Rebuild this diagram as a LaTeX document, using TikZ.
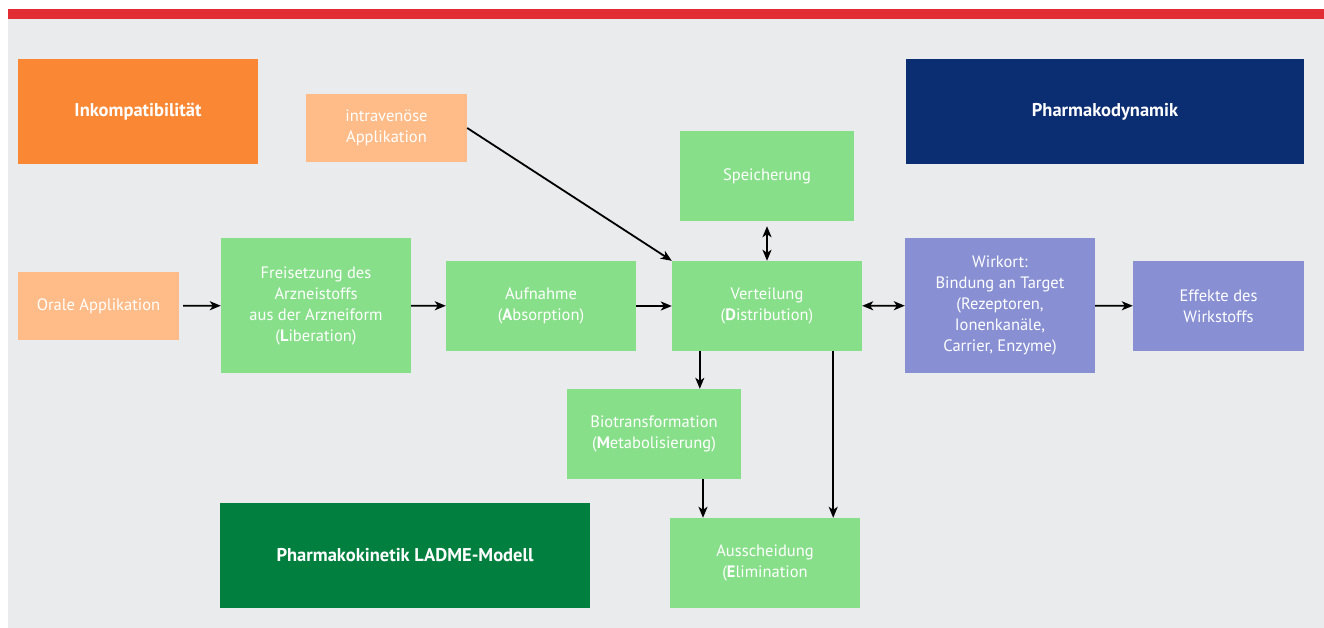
\documentclass[tikz,border=0pt]{standalone}
\usepackage{fontspec}
\setsansfont{PT Sans}
\usetikzlibrary{arrows.meta, positioning, calc}
\definecolor{BarRed}{RGB}{227,45,53}
\definecolor{PanelGray}{RGB}{234,235,237}
\definecolor{DeepOrange}{RGB}{249,135,52}
\definecolor{LightOrange}{RGB}{255,188,136}
\definecolor{NavyBlue}{RGB}{11,45,114}
\definecolor{SoftGreen}{RGB}{136,223,138}
\definecolor{SoftViolet}{RGB}{136,144,211}
\definecolor{DeepGreen}{RGB}{0,127,63}

\begin{document}
\begin{tikzpicture}[x=1pt, y=-1pt, font=\sffamily,
    box/.style={inner sep=0pt, text=white, align=center, font=\sffamily\fontsize{16.5}{21}\selectfont},
    titlebox/.style={box, font=\sffamily\bfseries\fontsize{18.5}{21}\selectfont},
    arr/.style={line width=1.8pt, -{Stealth[length=11pt, width=9pt, inset=3pt]}},
    biarr/.style={line width=1.8pt, {Stealth[length=11pt, width=9pt, inset=3pt]}-{Stealth[length=11pt, width=9pt, inset=3pt]}}]

\useasboundingbox (0,0) rectangle (1324,628);

% hintergrund
\fill[PanelGray] (8,19) rectangle (1324,628);
\fill[BarRed] (8,9.5) rectangle (1324,19);

% titel
\node[titlebox, fill=DeepOrange, minimum width=240pt, minimum height=105pt] (inko) at (138,111.5) {Inkompatibilität};
\node[titlebox, fill=NavyBlue, minimum width=398pt, minimum height=105pt] (pd) at (1105,111.5) {Pharmakodynamik};
\node[titlebox, fill=DeepGreen, minimum width=370pt, minimum height=105pt] (ladme) at (405,555.5) {Pharmakokinetik LADME-Modell};

% applikation
\node[box, fill=LightOrange, minimum width=161pt, minimum height=68pt] (iv) at (386.5,128) {intravenöse\\Applikation};
\node[box, fill=LightOrange, minimum width=161pt, minimum height=68pt] (oral) at (98.5,306) {Orale Applikation};

% LADME
\node[box, fill=SoftGreen, minimum width=190pt, minimum height=135pt] (lib) at (316,305.5)
    {Freisetzung des\\Arzneistoffs\\aus der Arzneiform\\(\textbf{L}iberation)};
\node[box, fill=SoftGreen, minimum width=190pt, minimum height=90pt] (abs) at (541,306) {Aufnahme\\(\textbf{A}bsorption)};
\node[box, fill=SoftGreen, minimum width=190pt, minimum height=90pt] (dist) at (767,306) {Verteilung\\(\textbf{D}istribution)};
\node[box, fill=SoftGreen, minimum width=174pt, minimum height=90pt] (spei) at (767,176) {Speicherung};
\node[box, fill=SoftGreen, minimum width=174pt, minimum height=90pt] (met) at (654,434) {Biotransformation\\(\textbf{M}etabolisierung)};
\node[box, fill=SoftGreen, minimum width=190pt, minimum height=90pt] (elim) at (765,563) {Ausscheidung\\(\textbf{E}limination};

% wirkung
\node[box, fill=SoftViolet, minimum width=190pt, minimum height=135pt] (wirk) at (1000,305.5)
    {Wirkort:\\Bindung an Target\\(Rezeptoren,\\Ionenkanäle,\\Carrier, Enzyme)};
\node[box, fill=SoftViolet, minimum width=171pt, minimum height=90pt] (eff) at (1218.5,306) {Effekte des\\Wirkstoffs};

% pfeile
\draw[arr, shorten <=4pt] (oral) -- (lib);
\draw[arr] (lib) -- (abs);
\draw[arr] (abs) -- (dist);
\draw[arr] (iv.east) -- (dist.north west);
\draw[biarr, shorten <=5pt] (spei) -- (dist);
\draw[biarr] (dist) -- (wirk);
\draw[arr] (wirk) -- (eff);
\draw[arr] ([xshift=28pt]dist.south west) -- ([xshift=28pt]dist.south west |- met.north);
\draw[arr] ([xshift=49pt]met.south) -- ([xshift=49pt]met.south |- elim.north);
\draw[arr] ([xshift=-29pt]dist.south east) -- ([xshift=-29pt]dist.south east |- elim.north);

\end{tikzpicture}
\end{document}
